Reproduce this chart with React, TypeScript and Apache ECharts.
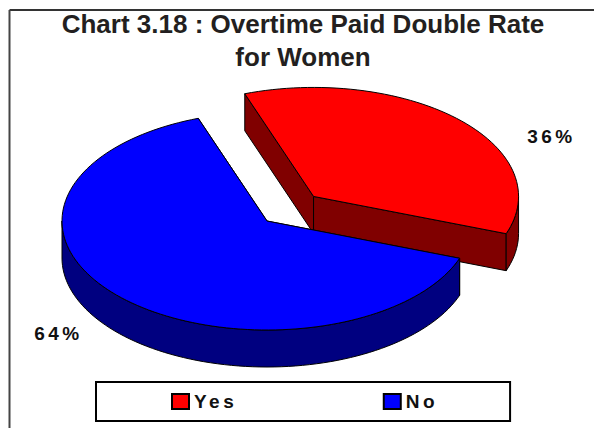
import React, { useEffect, useRef } from "react";
import * as echarts from "echarts";

const titleLines = ["Chart 3.18 : Overtime Paid Double Rate", "for Women"];
const categories = ["Yes", "No"];
const shares = [36, 64];
const topColors = ["#ff0000", "#0000ff"];
const wallColors = ["#800000", "#000080"];

const FONT = '"Liberation Sans", Arial, sans-serif';
const CENTER = [267, 221];
const RX = 205;
const RY = 109;
const DEPTH = 37;
const FIRST_ANGLE = 250.4;
const EXPLODE = [0.32, 0];
const LABEL_OFFSET = [
  [284.5, -85],
  [-208.5, 112],
];

const total = shares.reduce((a, b) => a + b, 0);

// Projects an angle (degrees, clockwise, from +x) onto the tilted pie ellipse.
const project = (c: number[], deg: number, dy = 0) => {
  const t = (deg * Math.PI) / 180;
  return [c[0] + RX * Math.cos(t), c[1] + RY * Math.sin(t) + dy];
};

const arcPoints = (c: number[], from: number, to: number, dy = 0) => {
  const steps = Math.max(2, Math.ceil(Math.abs(to - from) / 2));
  const pts: number[][] = [];
  for (let i = 0; i <= steps; i++) pts.push(project(c, from + ((to - from) * i) / steps, dy));
  return pts;
};

const sliceRenderer = (index: number) => () => {
  const before = shares.slice(0, index).reduce((a, b) => a + b, 0);
  const start = FIRST_ANGLE + (before / total) * 360;
  const end = start + (shares[index] / total) * 360;
  const mid = ((start + end) / 2) * (Math.PI / 180);
  const c = [
    CENTER[0] + RX * EXPLODE[index] * Math.cos(mid),
    CENTER[1] + RY * EXPLODE[index] * Math.sin(mid),
  ];
  const edge = { stroke: "#000", lineWidth: 1, lineJoin: "round" };
  const wall = { ...edge, fill: wallColors[index] };
  const children: any[] = [];

  // Flat cut faces, then the part of the rim that faces the viewer.
  for (const deg of [start, end]) {
    const p = project(c, deg);
    children.push({
      type: "polygon",
      shape: { points: [c, p, [p[0], p[1] + DEPTH], [c[0], c[1] + DEPTH]] },
      style: wall,
    });
  }
  for (const base of [0, 360]) {
    const from = Math.max(start, base);
    const to = Math.min(end, base + 180);
    if (from < to) {
      children.push({
        type: "polygon",
        shape: { points: [...arcPoints(c, from, to), ...arcPoints(c, to, from, DEPTH)] },
        style: wall,
      });
    }
  }
  children.push({
    type: "polygon",
    shape: { points: [c, ...arcPoints(c, start, end)] },
    style: { ...edge, fill: topColors[index] },
  });
  children.push({
    type: "text",
    style: {
      text: `${shares[index]}%`,
      x: CENTER[0] + LABEL_OFFSET[index][0],
      y: CENTER[1] + LABEL_OFFSET[index][1],
      fill: "#111",
      font: `bold 19px ${FONT}`,
      textAlign: "center",
      textVerticalAlign: "middle",
    },
  });
  return { type: "group", children };
};

export default function App() {
  const ref = useRef<HTMLDivElement>(null);
  useEffect(() => {
    const chart = echarts.init(ref.current!, undefined, { renderer: "svg" });
    chart.setOption({
      animation: false,
      backgroundColor: "#fff",
      title: {
        text: titleLines.join("\n"),
        left: 298,
        top: 2,
        textAlign: "center",
        textStyle: {
          fontFamily: FONT,
          fontWeight: "bold",
          fontSize: 26,
          lineHeight: 33,
          color: "#231f20",
        },
      },
      legend: {
        data: categories,
        left: 96,
        top: 382,
        padding: [10, 79, 10, 75],
        borderColor: "#000",
        borderWidth: 2,
        itemWidth: 17,
        itemHeight: 15,
        itemGap: 156,
        icon: "rect",
        textStyle: { fontFamily: FONT, fontWeight: "bold", fontSize: 19, color: "#111", padding: [0, 0, 3, 0] },
      },
      graphic: [
        { type: "line", shape: { x1: 9.5, y1: 10, x2: 594, y2: 10 }, style: { stroke: "#333", lineWidth: 2 } },
        { type: "line", shape: { x1: 9.5, y1: 10, x2: 9.5, y2: 428 }, style: { stroke: "#444", lineWidth: 2 } },
      ],
      series: categories.map((name, i) => ({
        type: "custom",
        name,
        coordinateSystem: "none",
        silent: true,
        itemStyle: { color: topColors[i], borderColor: "#000", borderWidth: 1 },
        data: [shares[i]],
        renderItem: sliceRenderer(i),
      })),
    });
    return () => chart.dispose();
  }, []);
  return (
    <>
      <style>{`svg text[style*="19px"] { letter-spacing: 3.5px; }`}</style>
      <div ref={ref} style={{ position: "fixed", left: 0, top: 0, width: 594, height: 428 }} />
    </>
  );
}
